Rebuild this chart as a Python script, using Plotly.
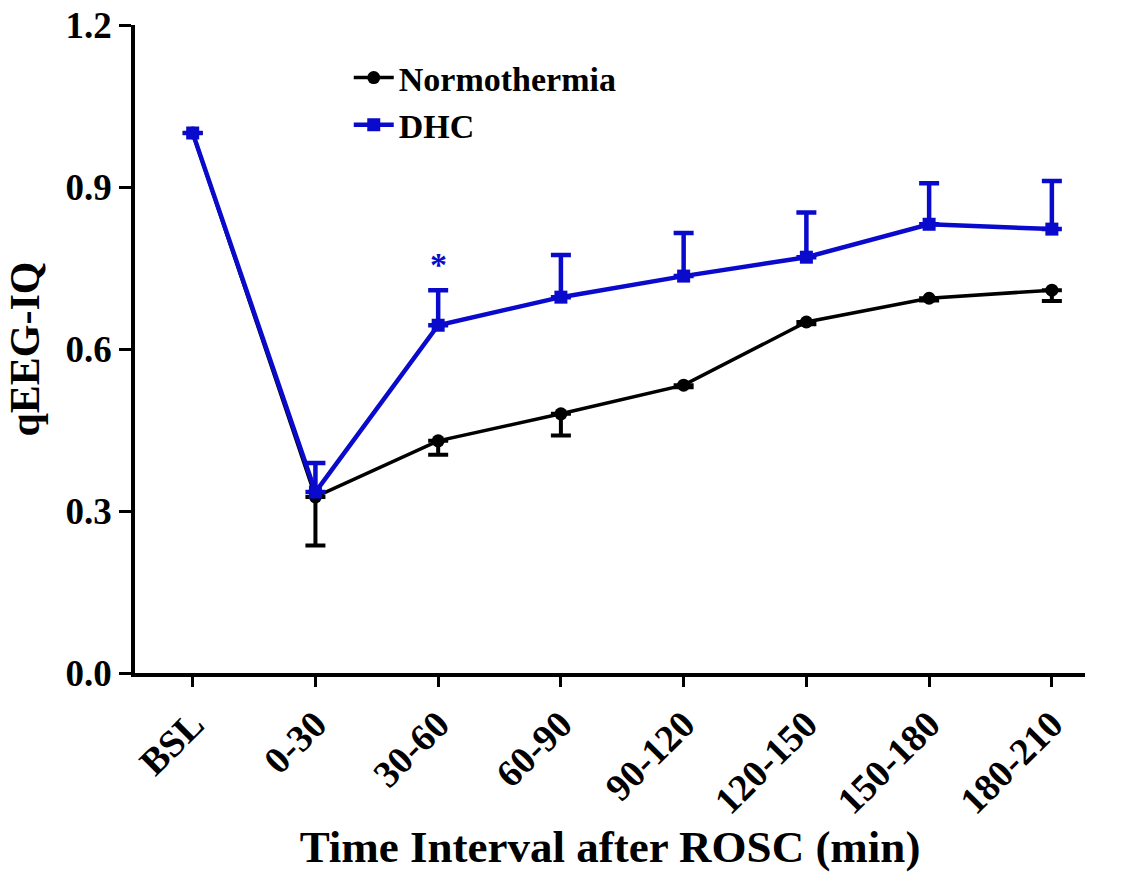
import plotly.graph_objects as go

categories = ["BSL", "0-30", "30-60", "60-90", "90-120", "120-150", "150-180", "180-210"]
normo_mean = [1.0, 0.326, 0.43, 0.48, 0.533, 0.65, 0.694, 0.709]
normo_err = [0.0, 0.09, 0.026, 0.04, 0.004, 0.004, 0.004, 0.02]
dhc_mean = [1.0, 0.335, 0.644, 0.696, 0.735, 0.77, 0.831, 0.822]
dhc_err = [0.0, 0.054, 0.065, 0.078, 0.08, 0.083, 0.076, 0.089]
y_ticks = [0.0, 0.3, 0.6, 0.9, 1.2]

FONT = "Liberation Serif"
BLUE = "#0A0ACC"

x_idx = list(range(len(categories)))

fig = go.Figure()
fig.add_trace(go.Scatter(
    x=x_idx, y=normo_mean, mode="lines+markers", name="<b>Normothermia</b>",
    line=dict(color="black", width=3.5),
    marker=dict(symbol="circle", size=13, color="black"),
    error_y=dict(type="data", array=[0]*len(normo_err), arrayminus=normo_err,
                 symmetric=False, color="black", thickness=4, width=10),
))
fig.add_trace(go.Scatter(
    x=x_idx, y=dhc_mean, mode="lines+markers", name="<b>DHC</b>",
    line=dict(color=BLUE, width=4.5),
    marker=dict(symbol="square", size=13, color=BLUE),
    error_y=dict(type="data", array=dhc_err, arrayminus=[0]*len(dhc_err),
                 symmetric=False, color=BLUE, thickness=4.5, width=10),
))

fig.add_annotation(x=2, y=dhc_mean[2] + dhc_err[2] + 0.01, text="<b>*</b>",
                   showarrow=False, font=dict(family=FONT, size=34, color=BLUE),
                   yanchor="bottom")

fig.update_layout(
    width=1121, height=877,
    margin=dict(l=135, r=36, t=25, b=204),
    paper_bgcolor="white", plot_bgcolor="white",
    font=dict(family=FONT, color="black"),
    showlegend=True,
    legend=dict(x=0.225, y=0.963, xanchor="left", yanchor="top",
                font=dict(family=FONT, size=34, color="black"),
                bgcolor="rgba(0,0,0,0)", itemwidth=40, tracegroupgap=0),
    xaxis=dict(
        range=[-0.47, 7.27], tickmode="array", tickvals=x_idx,
        ticktext=[f"<b>{c}</b>" for c in categories], tickangle=-45,
        tickfont=dict(family=FONT, size=38, color="black"),
        showline=True, linecolor="black", linewidth=3.5,
        ticks="outside", ticklen=10, tickwidth=3, tickcolor="black",
        showgrid=False, zeroline=False, automargin=False,
        title=dict(text="<b>Time Interval after ROSC (min)</b>",
                   font=dict(family=FONT, size=45, color="black"), standoff=6),
    ),
    yaxis=dict(
        range=[0, 1.2], tickmode="array", tickvals=y_ticks,
        ticktext=[f"<b>{v:.1f}</b>" for v in y_ticks],
        tickfont=dict(family=FONT, size=37, color="black"),
        showline=True, linecolor="black", linewidth=3.5,
        ticks="outside", ticklen=12, tickwidth=3, tickcolor="black",
        showgrid=False, zeroline=False, automargin=False,
        title=dict(text="<b>qEEG-IQ</b>",
                   font=dict(family=FONT, size=42, color="black"), standoff=14),
    ),
)

fig.write_html("out.html")
